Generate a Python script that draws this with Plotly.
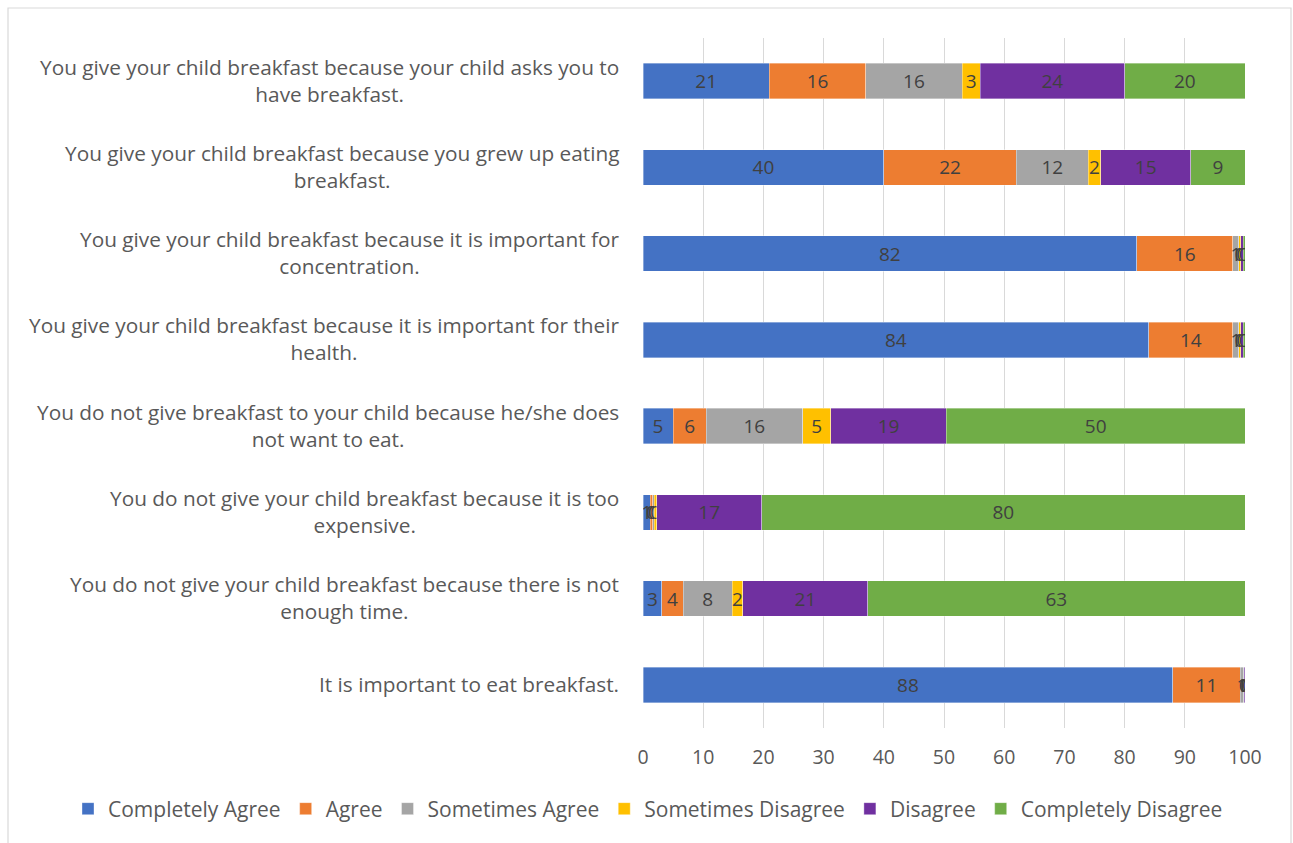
import plotly.graph_objects as go

categories = [
    "You give your child breakfast because your child asks you to<br>have breakfast.",
    "You give your child breakfast because you grew up eating<br>breakfast.",
    "You give your child breakfast because it is important for<br>concentration.",
    "You give your child breakfast because it is important for their<br>health.",
    "You do not give breakfast to your child because he/she does<br>not want to eat.",
    "You do not give your child breakfast because it is too<br>expensive.",
    "You do not give your child breakfast because there is not<br>enough time.",
    "It is important to eat breakfast.",
]

series_names = ["Completely Agree", "Agree", "Sometimes Agree",
                "Sometimes Disagree", "Disagree", "Completely Disagree"]

completely_agree = [21, 40, 82, 84, 5, 1.2, 3.1, 88]
agree = [16, 22, 16, 14, 5.5, 0.4, 3.6, 11.2]
sometimes_agree = [16, 12, 1, 1, 16, 0.3, 8.1, 0.6]
sometimes_disagree = [3, 2, 0.3, 0.3, 4.7, 0.4, 1.8, 0.1]
disagree = [24, 15, 0.4, 0.4, 19.2, 17.4, 20.7, 0.4]
completely_disagree = [20, 9, 0.3, 0.3, 49.6, 80.3, 62.7, 0.2]

series_values = [completely_agree, agree, sometimes_agree,
                 sometimes_disagree, disagree, completely_disagree]
colors = ["#4472C4", "#ED7D31", "#A5A5A5", "#FFC000", "#7030A0", "#70AD47"]

x_ticks = list(range(0, 101, 10))

FONT = "Open Sans"

fig = go.Figure()
for name, vals, col in zip(series_names, series_values, colors):
    fig.add_trace(go.Bar(
        y=categories, x=vals, name=name, orientation="h",
        marker=dict(color=col, line=dict(color="rgba(255,255,255,0.6)", width=0.6)),
        texttemplate="%{x:.0f}", textposition="inside", insidetextanchor="middle",
        textfont=dict(family=FONT, size=19, color="#404040"),
        hoverinfo="skip",
    ))

L, R, T, B = 643, 48, 38, 115
W, H = 1293, 843
pw, ph = W - L - R, H - T - B

for cat in categories:
    fig.add_annotation(
        x=(621 - L) / pw, xref="paper", y=cat, yref="y",
        text=cat, showarrow=False, xanchor="right", align="center",
        yshift=1,
        font=dict(family=FONT, size=20.8, color="#595959"),
    )

fig.add_shape(type="rect", xref="paper", yref="paper",
              x0=(8 - L) / pw, x1=(1291 - L) / pw,
              y0=-(H + 5 - T - ph) / ph, y1=1 + (T - 8) / ph,
              line=dict(color="#D9D9D9", width=1.2), layer="below")

fig.update_layout(
    barmode="stack",
    bargap=0.59,
    width=W, height=H,
    margin=dict(l=L, r=R, t=T, b=B),
    paper_bgcolor="white", plot_bgcolor="white",
    uniformtext=dict(minsize=19, mode="show"),
    font=dict(family=FONT, color="#595959"),
    xaxis=dict(range=[0, 100], tickvals=x_ticks, showgrid=True, gridcolor="#D9D9D9",
               gridwidth=1.3, zeroline=False, ticks="", showline=False,
               tickfont=dict(family=FONT, size=19.5, color="#595959"), ticklabelstandoff=15),
    yaxis=dict(autorange="reversed", showticklabels=False, showgrid=False,
               showline=False, ticks=""),
    legend=dict(orientation="h", xref="paper", yref="paper",
                x=(68 - L) / pw, xanchor="left", y=-(809 - (H - B)) / ph, yanchor="middle",
                font=dict(family=FONT, size=21, color="#595959"),
                itemwidth=30, traceorder="normal"),
)

fig.write_html("out.html")
